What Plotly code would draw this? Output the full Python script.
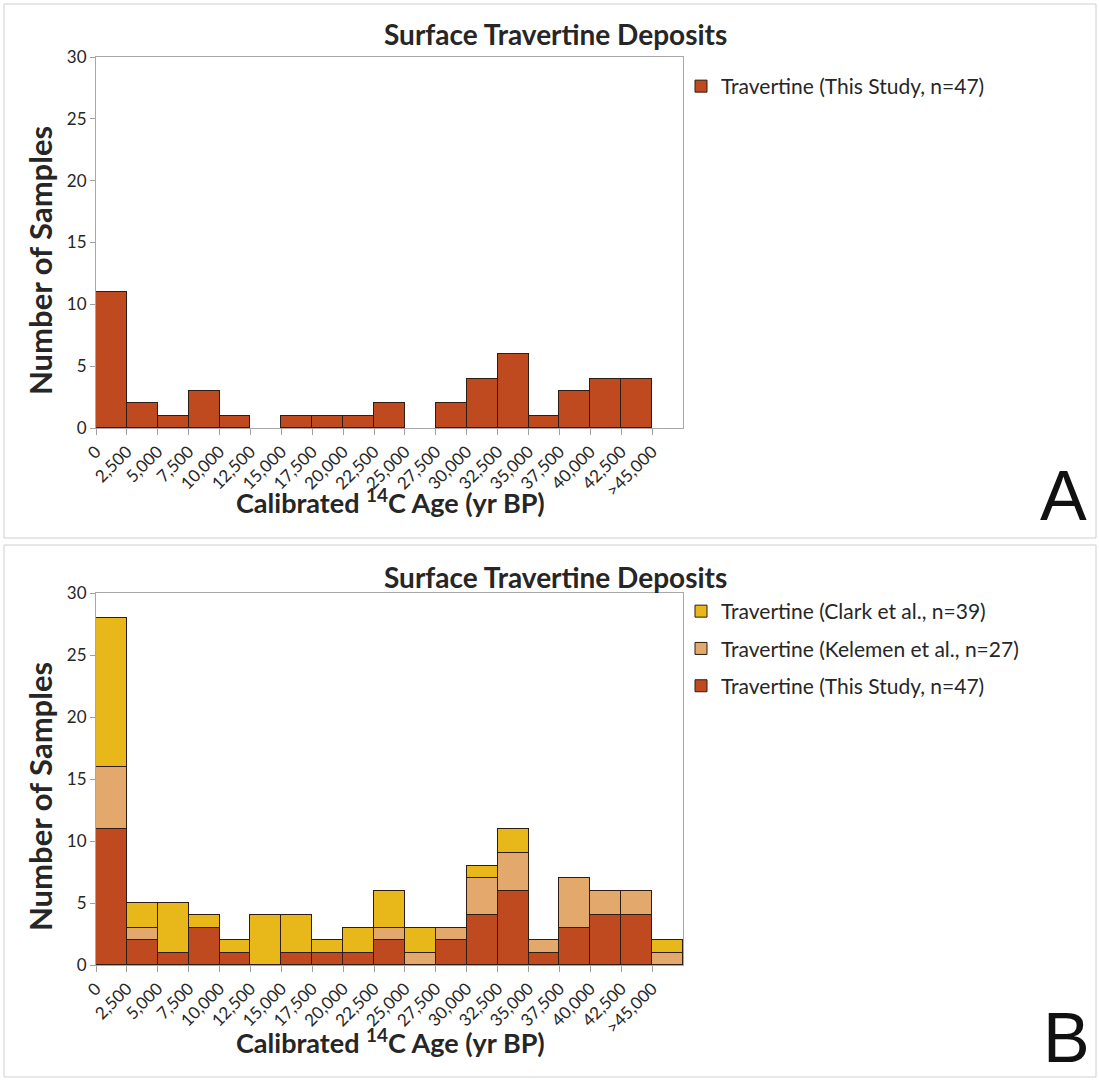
import plotly.graph_objects as go

tick_labels = ["0", "2,500", "5,000", "7,500", "10,000", "12,500", "15,000", "17,500",
               "20,000", "22,500", "25,000", "27,500", "30,000", "32,500", "35,000",
               "37,500", "40,000", "42,500", ">45,000"]
bin_index = list(range(19))  # bin i spans tick i to tick i+1

this_study = [11, 2, 1, 3, 1, 0, 1, 1, 1, 2, 0, 2, 4, 6, 1, 3, 4, 4, 0]
kelemen = [5, 1, 0, 0, 0, 0, 0, 0, 0, 1, 1, 1, 3, 3, 1, 4, 2, 2, 1]
clark = [12, 2, 4, 1, 1, 4, 3, 1, 2, 3, 2, 0, 1, 2, 0, 0, 0, 0, 1]

C_THIS = "#BF4A1F"
C_KEL = "#E2A86C"
C_CLARK = "#E8B719"
OUTLINE = "#2e1d12"
FONT = "Lato"
TXT = "#262626"

centers = [i + 0.5 for i in bin_index]

fig = go.Figure()

def bar(y, name, color, xa, ya, legend, group, rank):
    yy = [v if v else None for v in y]
    return go.Bar(x=centers, y=yy, name=name, marker=dict(color=color, line=dict(color=OUTLINE, width=1)),
                  width=1, xaxis=xa, yaxis=ya, legend=legend, legendgroup=group, legendrank=rank,
                  showlegend=True)

# Panel A
fig.add_trace(bar(this_study, "Travertine (This Study, n=47)", C_THIS, "x", "y", "legend", "a1", 1))
# Panel B
fig.add_trace(bar(this_study, "Travertine (This Study, n=47)", C_THIS, "x2", "y2", "legend2", "b1", 3))
fig.add_trace(bar(kelemen, "Travertine (Kelemen et al., n=27)", C_KEL, "x2", "y2", "legend2", "b2", 2))
fig.add_trace(bar(clark, "Travertine (Clark et al., n=39)", C_CLARK, "x2", "y2", "legend2", "b3", 1))

W, H = 1099, 1080
def px_x(p): return p / W
def px_y(p): return 1 - p / H

xaxis_common = dict(range=[0, 19], tickmode="array", tickvals=bin_index, ticktext=tick_labels,
                    tickangle=-45, ticks="outside", ticklen=6, tickcolor="#a0a0a0",
                    showline=True, linecolor="#a8a8a8", linewidth=1, mirror=True,
                    showgrid=False, zeroline=False, automargin=False,
                    tickfont=dict(family=FONT, size=17, color=TXT))
yaxis_common = dict(range=[0, 30], tickvals=[0, 5, 10, 15, 20, 25, 30],
                    ticks="outside", ticklen=5, tickcolor="#a0a0a0",
                    showline=True, linecolor="#a8a8a8", linewidth=1, mirror=True,
                    showgrid=False, zeroline=False, automargin=False,
                    tickfont=dict(family=FONT, size=17, color=TXT))

def ann(text, x, y, size, family=FONT, angle=0, color=TXT):
    return dict(text=text, x=px_x(x), y=px_y(y), xref="paper", yref="paper", showarrow=False,
                xanchor="center", yanchor="middle", textangle=angle,
                font=dict(family=family, size=size, color=color))

xtitle = "<b>Calibrated <sup>14</sup>C Age (yr BP)</b>"
ytitle = "<b>Number of Samples</b>"
ttl = "<b>Surface Travertine Deposits</b>"

fig.update_layout(
    width=W, height=H, margin=dict(l=0, r=0, t=0, b=0, autoexpand=False),
    paper_bgcolor="white", plot_bgcolor="white", barmode="stack", bargap=0, showlegend=True,
    xaxis=dict(domain=[px_x(96), px_x(683)], anchor="y", **xaxis_common),
    yaxis=dict(domain=[px_y(428), px_y(57)], anchor="x", **yaxis_common),
    xaxis2=dict(domain=[px_x(96), px_x(683)], anchor="y2", **xaxis_common),
    yaxis2=dict(domain=[px_y(965), px_y(593)], anchor="x2", **yaxis_common),
    legend=dict(x=px_x(681), y=px_y(66), xanchor="left", yanchor="top",
                font=dict(family=FONT, size=21, color=TXT), bgcolor="rgba(0,0,0,0)",
                itemwidth=30),
    legend2=dict(x=px_x(681), y=px_y(591), xanchor="left", yanchor="top", traceorder="grouped",
                 font=dict(family=FONT, size=21, color=TXT), bgcolor="rgba(0,0,0,0)",
                 itemwidth=30, tracegroupgap=7),
    annotations=[
        ann(ttl, 555, 34, 28),
        ann(ttl, 555, 577, 28),
        ann(xtitle, 390, 501, 27),
        ann(xtitle, 390, 1041, 27),
        ann(ytitle, 40, 261, 31, angle=-90),
        ann(ytitle, 40, 797, 31, angle=-90),
        ann("A", 1063, 496, 70, family="Liberation Sans", color="#111111"),
        ann("B", 1066, 1038, 70, family="Liberation Sans", color="#111111"),
    ],
    shapes=[
        dict(type="rect", xref="paper", yref="paper", x0=px_x(4), x1=px_x(1096), y0=px_y(538), y1=px_y(4),
             line=dict(color="#cfcfcf", width=1)),
        dict(type="rect", xref="paper", yref="paper", x0=px_x(4), x1=px_x(1096), y0=px_y(1077), y1=px_y(545),
             line=dict(color="#cfcfcf", width=1)),
    ],
)

fig.write_html("out.html")
